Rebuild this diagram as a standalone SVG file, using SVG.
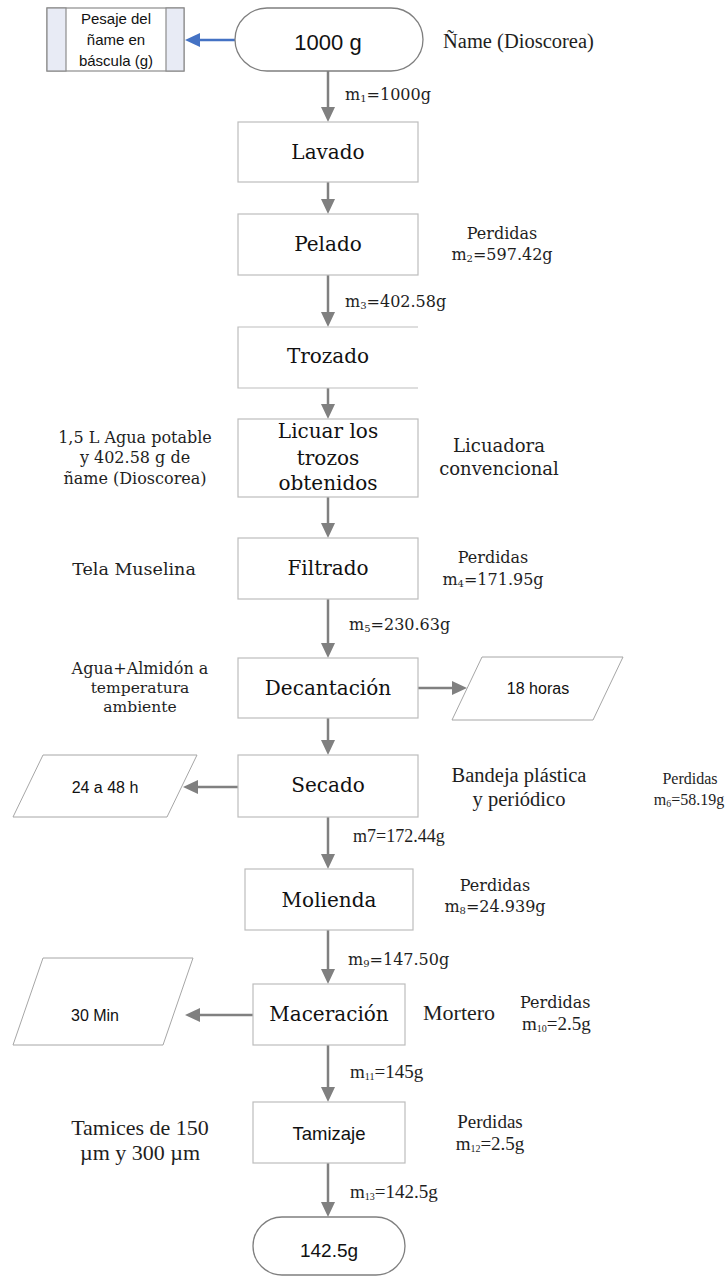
<svg xmlns="http://www.w3.org/2000/svg" width="727" height="1276" viewBox="0 0 727 1276">
<defs>
<marker id="ah" markerUnits="userSpaceOnUse" markerWidth="15" markerHeight="14" refX="3" refY="7" orient="auto">
<path d="M0,0 L15,7 L0,14 z" fill="#808080"/>
</marker>
<marker id="ahb" markerUnits="userSpaceOnUse" markerWidth="15" markerHeight="14" refX="3" refY="7" orient="auto">
<path d="M0,0 L15,7 L0,14 z" fill="#4472c4"/>
</marker>
</defs>
<style>
.box{fill:#fff;stroke:#bdbdbd;stroke-width:1.2}
.term{fill:#fff;stroke:#7f7f7f;stroke-width:1.3}
.para{fill:#fff;stroke:#a6a6a6;stroke-width:1}
.arr{stroke:#808080;stroke-width:2.5;fill:none;marker-end:url(#ah)}
.blue{stroke:#4472c4;stroke-width:2.5;fill:none;marker-end:url(#ahb)}
.c{font-family:"DejaVu Serif",serif;fill:#1e1e1e}
.t{font-family:"Liberation Serif","Times New Roman",serif;fill:#1e1e1e}
.s{font-family:"Liberation Sans",Arial,sans-serif;fill:#111}
.m{text-anchor:middle}
.lbl{font-size:20px;fill:#111}
.sub{font-size:10px}
</style>

<g id="connectors">
<line class="blue" x1="235" y1="40" x2="197" y2="40"/>
<line class="arr" x1="328" y1="71" x2="328" y2="110"/>
<line class="arr" x1="328" y1="182" x2="328" y2="202"/>
<line class="arr" x1="328" y1="275" x2="328" y2="315"/>
<line class="arr" x1="328" y1="388" x2="328" y2="407"/>
<line class="arr" x1="328" y1="497" x2="328" y2="526"/>
<line class="arr" x1="328" y1="599" x2="328" y2="646"/>
<line class="arr" x1="418" y1="688" x2="455" y2="688"/>
<line class="arr" x1="328" y1="718" x2="328" y2="743"/>
<line class="arr" x1="238" y1="787" x2="195" y2="787"/>
<line class="arr" x1="328" y1="817" x2="328" y2="857"/>
<line class="arr" x1="328" y1="930" x2="328" y2="972"/>
<line class="arr" x1="253" y1="1015" x2="197" y2="1015"/>
<line class="arr" x1="328" y1="1045" x2="328" y2="1090"/>
<line class="arr" x1="328" y1="1163" x2="328" y2="1205"/>
</g>

<g id="flow-labels">
<text class="c" x="345" y="100" font-size="16">m<tspan class="sub" dy="2">1</tspan><tspan dy="-2">=1000g</tspan></text>
<text class="c" x="345" y="307" font-size="16">m<tspan class="sub" dy="2">3</tspan><tspan dy="-2">=402.58g</tspan></text>
<text class="c" x="349" y="630" font-size="16">m<tspan class="sub" dy="2">5</tspan><tspan dy="-2">=230.63g</tspan></text>
<text class="t" x="353" y="842" font-size="18">m7=172.44g</text>
<text class="c" x="348" y="965" font-size="16">m<tspan class="sub" dy="2">9</tspan><tspan dy="-2">=147.50g</tspan></text>
<text class="t" x="350" y="1078" font-size="19">m<tspan class="sub" dy="2">11</tspan><tspan dy="-2">=145g</tspan></text>
<text class="t" x="350" y="1198" font-size="19">m<tspan class="sub" dy="2">13</tspan><tspan dy="-2">=142.5g</tspan></text>
</g>

<g id="pesaje">
<rect x="47" y="8" width="137" height="63" fill="#fff" stroke="#8c8c8c" stroke-width="1.2"/>
<rect x="47" y="8" width="19" height="63" fill="#e8ebf5" stroke="#8c8c8c" stroke-width="1.2"/>
<rect x="166" y="8" width="18" height="63" fill="#e8ebf5" stroke="#8c8c8c" stroke-width="1.2"/>
<text class="s m" x="116" y="24" font-size="15">Pesaje del</text>
<text class="s m" x="116" y="45" font-size="15">ñame en</text>
<text class="s m" x="116" y="66" font-size="15">báscula (g)</text>
</g>

<g id="inicio">
<rect class="term" x="235" y="8" width="188" height="63" rx="32" ry="31.5"/>
<text class="s m" x="328" y="50" font-size="22">1000 g</text>
</g>

<g id="nota-name">
<text class="t" x="443" y="48" font-size="20.5">Ñame (Dioscorea)</text>
</g>

<g id="lavado">
<rect class="box" x="238" y="122" width="180" height="60"/>
<text class="c m lbl" x="328" y="159">Lavado</text>
</g>

<g id="pelado">
<rect class="box" x="238" y="214" width="180" height="61"/>
<text class="c m lbl" x="328" y="251">Pelado</text>
<text class="c m" x="502" y="239" font-size="16">Perdidas</text>
<text class="c m" x="502" y="260" font-size="16">m<tspan class="sub" dy="2">2</tspan><tspan dy="-2">=597.42g</tspan></text>
</g>

<g id="trozado">
<path class="box" d="M418,327 H238 V388 H418"/>
<text class="c m lbl" x="328" y="363">Trozado</text>
</g>

<g id="licuar">
<rect class="box" x="238" y="419" width="180" height="78"/>
<text class="c m lbl" x="328" y="438">Licuar los</text>
<text class="c m lbl" x="328" y="465">trozos</text>
<text class="c m lbl" x="328" y="490">obtenidos</text>
<text class="c m" x="135" y="443" font-size="16">1,5 L Agua potable</text>
<text class="c m" x="135" y="463" font-size="16">y 402.58 g de</text>
<text class="c m" x="135" y="484" font-size="16">ñame (Dioscorea)</text>
<text class="c m" x="499" y="452" font-size="18">Licuadora</text>
<text class="c m" x="499" y="475" font-size="18">convencional</text>
</g>

<g id="filtrado">
<rect class="box" x="238" y="538" width="180" height="61"/>
<text class="c m lbl" x="328" y="575">Filtrado</text>
<text class="c m" x="134" y="575" font-size="17.5">Tela Muselina</text>
<text class="c m" x="493" y="563" font-size="16">Perdidas</text>
<text class="c m" x="493" y="585" font-size="16">m<tspan class="sub" dy="2">4</tspan><tspan dy="-2">=171.95g</tspan></text>
</g>

<g id="decantacion">
<rect class="box" x="238" y="658" width="180" height="60"/>
<text class="c m lbl" x="328" y="695">Decantación</text>
<text class="c m" x="140" y="674" font-size="16">Agua+Almidón a</text>
<text class="c m" x="140" y="693" font-size="15.5">temperatura</text>
<text class="c m" x="140" y="712" font-size="15.5">ambiente</text>
</g>

<g id="tiempo-18h">
<polygon class="para" points="482,657 623,657 593,720 452,720"/>
<text class="s m" x="538" y="694" font-size="16">18 horas</text>
</g>

<g id="secado">
<rect class="box" x="238" y="755" width="180" height="62"/>
<text class="c m lbl" x="328" y="792">Secado</text>
<text class="t m" x="519" y="782" font-size="20.5">Bandeja plástica</text>
<text class="t m" x="519" y="806" font-size="20.5">y periódico</text>
<text class="t m" x="690" y="784" font-size="16">Perdidas</text>
<text class="t m" x="689" y="805" font-size="16">m<tspan class="sub" dy="2">6</tspan><tspan dy="-2">=58.19g</tspan></text>
</g>

<g id="tiempo-24-48h">
<polygon class="para" points="43,755 197,755 167,817 13,817"/>
<text class="s m" x="105" y="793" font-size="16">24 a 48 h</text>
</g>

<g id="molienda">
<rect class="box" x="245" y="869" width="168" height="61"/>
<text class="c m lbl" x="329" y="907">Molienda</text>
<text class="c m" x="495" y="891" font-size="16">Perdidas</text>
<text class="c m" x="495" y="912" font-size="16">m<tspan class="sub" dy="2">8</tspan><tspan dy="-2">=24.939g</tspan></text>
</g>

<g id="maceracion">
<rect class="box" x="253" y="984" width="152" height="61"/>
<text class="c m lbl" x="329" y="1021">Maceración</text>
<text class="t" x="423" y="1020" font-size="22">Mortero</text>
<text class="c" x="520" y="1008" font-size="16">Perdidas</text>
<text class="t" x="522" y="1030" font-size="19">m<tspan class="sub" dy="2">10</tspan><tspan dy="-2">=2.5g</tspan></text>
</g>

<g id="tiempo-30min">
<polygon class="para" points="43,958 193,958 163,1045 13,1045"/>
<text class="s m" x="95" y="1021" font-size="16">30 Min</text>
</g>

<g id="tamizaje">
<rect class="box" x="253" y="1102" width="152" height="61"/>
<text class="s m" x="329" y="1140" font-size="18.5">Tamizaje</text>
<text class="t m" x="140" y="1135" font-size="22">Tamices de 150</text>
<text class="t m" x="140" y="1160" font-size="22">µm y 300 µm</text>
<text class="t m" x="490" y="1128" font-size="19">Perdidas</text>
<text class="t m" x="490" y="1150" font-size="19">m<tspan class="sub" dy="2">12</tspan><tspan dy="-2">=2.5g</tspan></text>
</g>

<g id="fin">
<rect class="term" x="253" y="1217" width="152" height="58" rx="29" ry="29"/>
<text class="s m" x="329" y="1257" font-size="19">142.5g</text>
</g>
</svg>
